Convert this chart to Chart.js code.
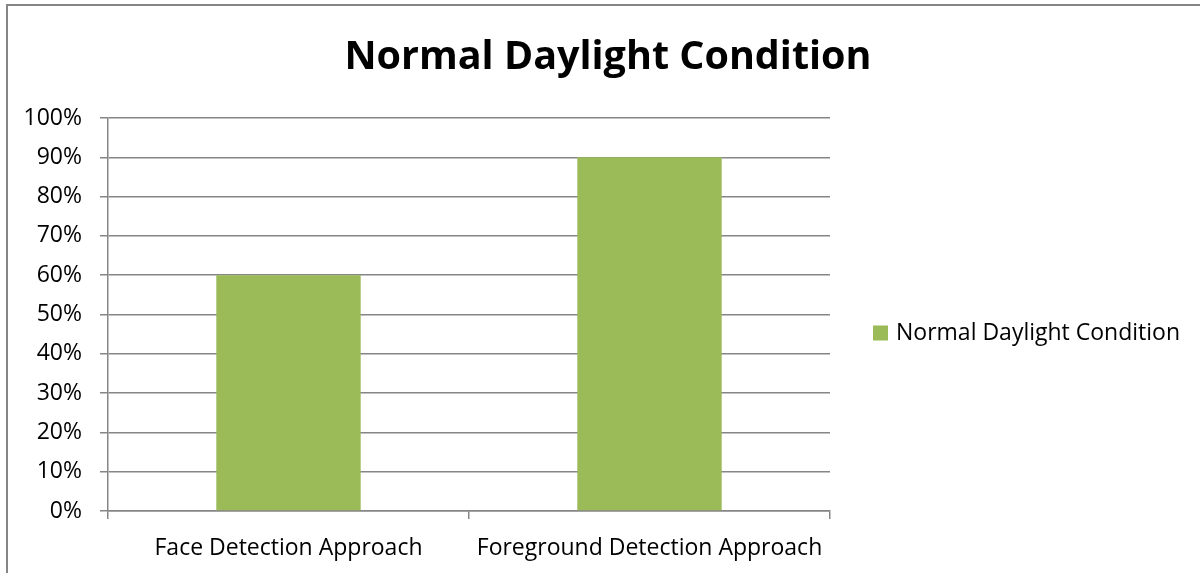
<!DOCTYPE html>
<html>
<head>
<meta charset="utf-8">
<script src="https://cdn.jsdelivr.net/npm/chart.js@4"></script>
<style>
  html, body { margin: 0; background: #fff; }
  canvas { display: block; }
</style>
</head>
<body>
<canvas id="chart" width="1200" height="573"></canvas>
<script>
const chartTitle = 'Normal Daylight Condition';
const categories = ['Face Detection Approach', 'Foreground Detection Approach'];
const seriesName = 'Normal Daylight Condition';
const seriesValues = [60, 90];
const yTickValues = [0, 10, 20, 30, 40, 50, 60, 70, 80, 90, 100];

const GREEN = '#9BBB59';
const GRID = '#868686';
const FONT = "'Open Sans', 'Noto Sans', sans-serif";

// frame, title and legend drawn by hand so they sit where the original has them
const frameTitleLegend = {
  id: 'frameTitleLegend',
  afterDraw(chart) {
    const { ctx, chartArea } = chart;
    const o = chart.options.plugins.frameTitleLegend;
    ctx.save();

    ctx.strokeStyle = GRID;
    ctx.lineWidth = 2;
    ctx.strokeRect(7, 5, 1400, 800);

    ctx.fillStyle = '#000';
    ctx.font = `700 ${o.titleSize}px ${FONT}`;
    ctx.textAlign = 'center';
    ctx.textBaseline = 'middle';
    ctx.fillText(o.title, o.titleX, o.titleY);

    const ds = chart.data.datasets[0];
    const lx = chartArea.right + 43;
    const ly = 333;
    ctx.fillStyle = ds.backgroundColor;
    ctx.fillRect(lx, ly - 7.5, 15, 15);
    ctx.fillStyle = '#000';
    ctx.font = `${o.legendSize}px ${FONT}`;
    ctx.textAlign = 'left';
    ctx.fillText(ds.label, lx + 23, ly);

    ctx.restore();
  },
};

new Chart(document.getElementById('chart'), {
  type: 'bar',
  data: {
    labels: categories,
    datasets: [
      {
        label: seriesName,
        data: seriesValues,
        backgroundColor: GREEN,
        categoryPercentage: 0.8,
        barPercentage: 0.5,
      },
    ],
  },
  options: {
    responsive: false,
    animation: false,
    layout: { padding: { top: 118, right: 370, left: 0, bottom: 0 } },
    plugins: {
      title: { display: false },
      legend: { display: false },
      tooltip: { enabled: false },
      frameTitleLegend: {
        title: chartTitle,
        titleSize: 39.5,
        titleX: 608,
        titleY: 58,
        legendSize: 23,
      },
    },
    scales: {
      x: {
        offset: true,
        grid: {
          drawOnChartArea: false,
          drawTicks: true,
          tickLength: 8,
          color: GRID,
          lineWidth: 1.5,
        },
        border: { color: GRID, width: 1.5 },
        ticks: {
          color: '#000',
          font: { family: FONT, size: 23 },
          padding: 16,
          maxRotation: 0,
        },
        afterFit(scale) {
          scale.height = 62;
        },
      },
      y: {
        min: 0,
        max: 100,
        afterBuildTicks(scale) {
          scale.ticks = yTickValues.map((v) => ({ value: v }));
        },
        grid: {
          color: GRID,
          lineWidth: 1.5,
          drawTicks: true,
          tickLength: 8,
        },
        border: { color: GRID, width: 1.5 },
        ticks: {
          color: '#000',
          font: { family: FONT, size: 23 },
          padding: 18,
          callback: (v) => v + '%',
        },
        afterFit(scale) {
          scale.width = 108;
        },
      },
    },
  },
  plugins: [frameTitleLegend],
});
</script>
</body>
</html>
